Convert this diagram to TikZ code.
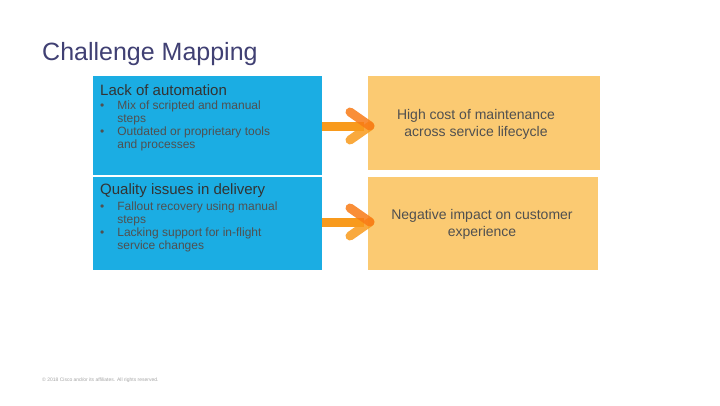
\documentclass[tikz,border=0pt]{standalone}
\usepackage{fontspec}
\setmainfont{Liberation Sans}
\begin{document}
\begin{tikzpicture}[x=1pt,y=-1pt,
  bluebox/.style={fill=cblue,draw=none},
  orbox/.style={fill=corange,draw=none},
  txt/.style={text=cgray,font=\fontsize{12}{13}\selectfont,align=left,anchor=north west,inner sep=0},
  rtxt/.style={text=cgray,font=\fontsize{14}{17}\selectfont,align=center,inner sep=0},
  shaft/.style={draw=arrowor,line width=9pt},
  chev/.style={draw=arrowor,line width=9pt,line cap=round,opacity=0.85}]
\definecolor{cblue}{HTML}{1BADE3}
\definecolor{corange}{HTML}{FBCA72}
\definecolor{cgray}{HTML}{505050}
\definecolor{arrowor}{HTML}{F89A1C}
\useasboundingbox (0,0) rectangle (720,405);
\fill[white] (0,0) rectangle (720,405);
\node[anchor=west,inner sep=0,text=cblue!60!black!80,font=\fontsize{25}{28}\selectfont,text=cgray!80!blue] (title) at (42,54) {Challenge Mapping};
\fill[bluebox] (93,76) rectangle (322,175);
\fill[bluebox] (93,177) rectangle (322,270);
\fill[orbox] (368,76) rectangle (600,170);
\fill[orbox] (368,177) rectangle (598,270);
\node[anchor=west,inner sep=0,text=black!80,font=\fontsize{15}{17}\selectfont] (h1) at (100,90) {Lack of automation};
\node[txt] (b1) at (100,101) {\textbullet\hspace{13pt}\parbox[t]{180pt}{Mix of scripted and manual\\steps}\\[0pt]\textbullet\hspace{13pt}\parbox[t]{180pt}{Outdated or proprietary tools\\and processes}};
\node[anchor=west,inner sep=0,text=black!80,font=\fontsize{15}{17}\selectfont] (h2) at (100,191) {Quality issues in delivery};
\node[txt] (b2) at (100,202) {\textbullet\hspace{13pt}\parbox[t]{180pt}{Fallout recovery using manual\\steps}\\[0pt]\textbullet\hspace{13pt}\parbox[t]{180pt}{Lacking support for in-flight\\service changes}};
\node[rtxt] (r1) at (476,124) {High cost of maintenance\\across service lifecycle};
\node[rtxt] (r2) at (482,224) {Negative impact on customer\\experience};
\foreach \y/\n in {126/a,222/b}{
  \coordinate (s\n) at (322,\y);
  \coordinate (t\n) at (370,\y);
  \draw[shaft] (s\n) -- ([xshift=-6pt]t\n);
  \draw[chev] ([xshift=-20pt,yshift=-14pt]t\n) -- (t\n);
  \draw[chev,draw=arrowor!80!red] (t\n) -- ([xshift=-20pt,yshift=14pt]t\n);
}
\node[anchor=west,inner sep=0,text=gray!70,font=\fontsize{5}{6}\selectfont] (foot) at (42,380) {© 2018 Cisco and/or its affiliates. All rights reserved.};
\end{tikzpicture}
\end{document}
